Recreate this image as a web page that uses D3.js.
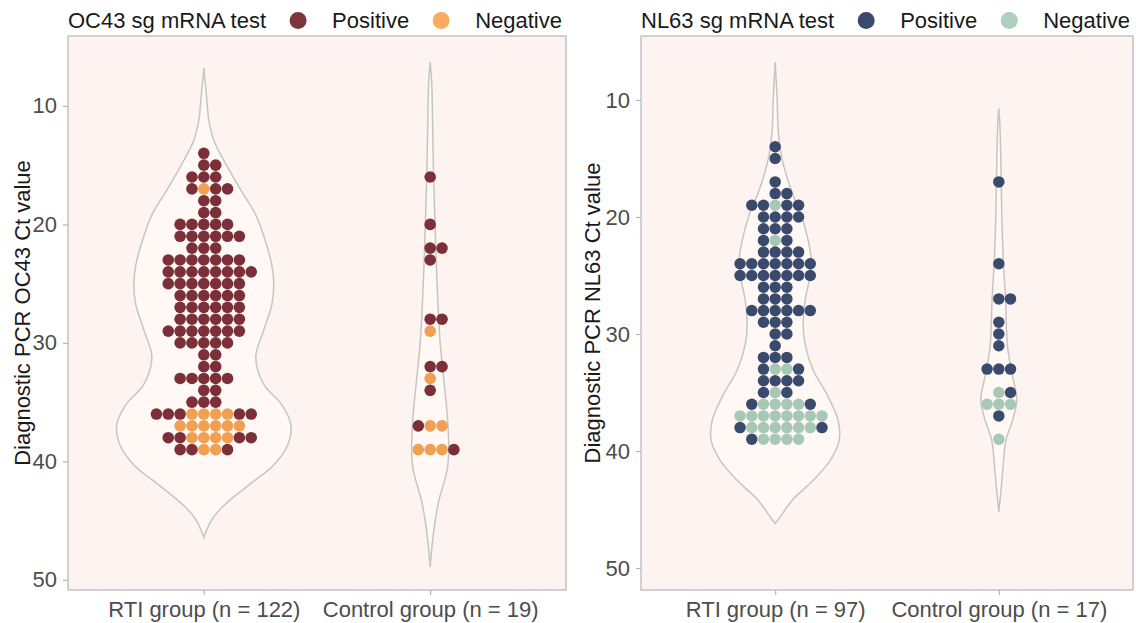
<!DOCTYPE html>
<html><head><meta charset="utf-8">
<script src="https://cdn.jsdelivr.net/npm/d3@7"></script>
<style>body{margin:0;background:#fff;} text{font-family:"Liberation Sans",Arial,sans-serif;}</style>
</head><body><svg id="c" width="1136" height="623"></svg>
<script>
// ---------- data ----------
const oc43Groups = ["RTI group (n = 122)", "Control group (n = 19)"];
const nl63Groups = ["RTI group (n = 97)", "Control group (n = 17)"];
const yTicks = [10, 20, 30, 40, 50];
const testLabels = ["Positive", "Negative"];

// Each row: Ct value and the test result of each dot, left to right (P = positive, N = negative)
const oc43RtiCt   = [14,15,16,17,18,19,20,21,22,23,24,25,26,27,28,29,30,31,32,33,34,35,36,37,38,39];
const oc43RtiTest = ["P","PP","PPP","PNPP","PP","PP","PPPPP","PPPPPP","PPP","PPPPPPP","PPPPPPPP","PPPPPPP",
                     "PPPPPP","PPPPPP","PPPPPP","PPPPPPP","PPPPP","PP","PP","PPPPP","PP","PPP",
                     "PPPNNNNPP","NNNNNN","PPNNNNPP","PPNNP"];
const oc43CtlCt   = [16,20,22,23,28,29,32,33,34,37,39];
const oc43CtlTest = ["P","P","PP","P","PP","N","PP","N","P","PNN","NNNP"];

const nl63RtiCt   = [14,15,17,18,19,20,21,22,23,24,25,26,27,28,29,30,31,32,33,34,35,36,37,38,39];
const nl63RtiTest = ["P","P","P","PP","PPNPP","PPPP","PPP","PNP","PPPP","PPPPPPP","PPPPPPP","PPP","PPP",
                     "PPPPPP","PPP","PP","P","PPP","PNNP","PPPP","PNP","PNNNNP","NNNNNNNN","PNNNNNNP","PNNNN"];
const nl63CtlCt   = [17,24,27,29,30,31,33,35,36,37,39];
const nl63CtlTest = ["P","P","PP","P","P","P","PPP","NP","NNN","P","N"];

// Violin outlines: Ct positions and violin width (fraction of the category slot)
const oc43RtiViolinCt = [6.8, 8.6, 10, 11.2, 12.9, 14.6, 17.1, 19.2, 21.3, 23.4, 25.1, 26.8, 28.9, 31.2, 33.5, 35.2, 36.9, 38.6, 40.3, 42, 43.7, 44.9, 46.4];
const oc43RtiViolinW  = [0, .02, .034, .049, .098, .196, .363, .51, .6, .667, .687, .667, .589, .51, .589, .765, .854, .824, .687, .44, .2, .079, 0];
const oc43CtlViolinCt = [6.3, 8, 11, 14.6, 19, 23, 27.2, 30, 33.4, 35.5, 37.1, 39, 40.7, 42, 43.2, 45, 47, 48.9];
const oc43CtlViolinW  = [0, .015, .023, .03, .044, .059, .079, .098, .137, .162, .175, .182, .167, .128, .088, .049, .02, 0];
const nl63RtiViolinCt = [6.75, 10, 12.6, 15.1, 17.7, 19.8, 22, 23.7, 25.4, 27.1, 29.2, 30.9, 33.1, 35.2, 37.4, 39.1, 40.8, 42.5, 44.2, 45.5, 46.2];
const nl63RtiViolinW  = [0, .02, .03, .07, .159, .258, .328, .358, .338, .298, .278, .298, .378, .517, .626, .636, .547, .378, .169, .06, 0];
const nl63CtlViolinCt = [10.7, 12, 15, 20, 23.7, 27.1, 31.1, 33.7, 35.6, 37.3, 39.1, 41.6, 43.5, 45.2];
const nl63CtlViolinW  = [0, .01, .02, .03, .045, .067, .087, .139, .179, .139, .07, .04, .02, 0];

// ---------- drawing ----------
const svg = d3.select("#c");
const FONT = 22;

function expand(cts, tests) {
  const pts = [];
  cts.forEach((ct, i) => {
    const s = tests[i], n = s.length;
    const shift = Math.floor((n - 1) / 2);
    for (let a = 0; a < n; a++) pts.push({ct, k: a - shift, test: s[a]});
  });
  return pts;
}

function panel(cfg) {
  const g = svg.append("g");
  const x = d3.scalePoint().domain(cfg.groups).range([cfg.x0, cfg.x1]).padding(0.6);
  const y = d3.scaleLinear().domain(cfg.yDomain).range([cfg.y0, cfg.y1]);
  const wScale = d3.scaleLinear().domain([0, 1]).range([0, 0.45 * x.step()]);

  g.append("rect").attr("x", cfg.x0).attr("y", cfg.y0)
    .attr("width", cfg.x1 - cfg.x0).attr("height", cfg.y1 - cfg.y0)
    .attr("fill", "#fdf4f1");

  cfg.violins.forEach((v, i) => {
    const cx = x(cfg.groups[i]);
    const pts = v[0].map((ct, j) => ({ct, w: v[1][j]}));
    const area = d3.area()
      .y(d => y(d.ct))
      .x0(d => cx - wScale(d.w))
      .x1(d => cx + wScale(d.w))
      .curve(d3.curveCatmullRom.alpha(0.5));
    g.append("path").attr("d", area(pts))
      .attr("fill", "#fff8f4").attr("stroke", "#c8c4c2").attr("stroke-width", 1.5);
  });

  const bin = Math.abs(y(1) - y(0));
  cfg.rows.forEach((r, i) => {
    const cx = x(cfg.groups[i]);
    g.selectAll(null).data(expand(r[0], r[1])).join("circle")
      .attr("cx", p => cx + p.k * bin)
      .attr("cy", p => y(p.ct))
      .attr("r", bin / 2 * 0.98)
      .attr("fill", p => cfg.colors[p.test]);
  });

  g.append("rect").attr("x", cfg.x0).attr("y", cfg.y0)
    .attr("width", cfg.x1 - cfg.x0).attr("height", cfg.y1 - cfg.y0)
    .attr("fill", "none").attr("stroke", "#b5b5b5").attr("stroke-width", 1.2);

  // axes
  const ya = g.append("g").attr("transform", `translate(${cfg.x0},0)`)
    .call(d3.axisLeft(y).tickValues(yTicks).tickSize(5).tickPadding(6));
  const xa = g.append("g").attr("transform", `translate(0,${cfg.y1})`)
    .call(d3.axisBottom(x).tickSize(5).tickPadding(6));
  [ya, xa].forEach(a => {
    a.select(".domain").remove();
    a.selectAll(".tick line").attr("stroke", "#b5b5b5").attr("stroke-width", 1.2);
    a.selectAll("text").attr("fill", "#4d4d4d").style("font-size", FONT + "px")
      .style("font-family", '"Liberation Sans", Arial, sans-serif');
  });

  g.append("text")
    .attr("transform", `translate(${cfg.titleX},${(cfg.y0 + cfg.y1) / 2}) rotate(-90)`)
    .attr("text-anchor", "middle").attr("fill", "#1a1a1a")
    .style("font-size", FONT + "px").text(cfg.yTitle);

  // legend
  const lg = g.append("g");
  let lx = cfg.x0;
  const ly = 28;
  const t = lg.append("text").attr("x", lx).attr("y", ly).attr("fill", "#1a1a1a")
    .style("font-size", FONT + "px").text(cfg.legendTitle);
  lx += t.node().getComputedTextLength() + 32;
  ["P", "N"].forEach((k, i) => {
    lg.append("circle").attr("cx", lx).attr("cy", ly - 7.5).attr("r", 8.5).attr("fill", cfg.legendColors[k]);
    lx += 34;
    const tt = lg.append("text").attr("x", lx).attr("y", ly).attr("fill", "#1a1a1a")
      .style("font-size", FONT + "px").text(testLabels[i]);
    lx += tt.node().getComputedTextLength() + 32;
  });
}

panel({
  groups: oc43Groups, rows: [[oc43RtiCt, oc43RtiTest], [oc43CtlCt, oc43CtlTest]],
  violins: [[oc43RtiViolinCt, oc43RtiViolinW], [oc43CtlViolinCt, oc43CtlViolinW]],
  x0: 68, x1: 566, y0: 36, y1: 590, yDomain: [4.1, 50.85],
  colors: {P: "#7b2f38", N: "#f0a052"}, legendColors: {P: "#7d343b", N: "#fbaa5e"},
  yTitle: "Diagnostic PCR OC43 Ct value", titleX: 30, legendTitle: "OC43 sg mRNA test"
});
panel({
  groups: nl63Groups, rows: [[nl63RtiCt, nl63RtiTest], [nl63CtlCt, nl63CtlTest]],
  violins: [[nl63RtiViolinCt, nl63RtiViolinW], [nl63CtlViolinCt, nl63CtlViolinW]],
  x0: 641, x1: 1133, y0: 36, y1: 590, yDomain: [4.53, 51.88],
  colors: {P: "#3a4a6c", N: "#a8c8b6"}, legendColors: {P: "#3a4a6c", N: "#afcfbd"},
  yTitle: "Diagnostic PCR NL63 Ct value", titleX: 600, legendTitle: "NL63 sg mRNA test"
});
</script></body></html>
